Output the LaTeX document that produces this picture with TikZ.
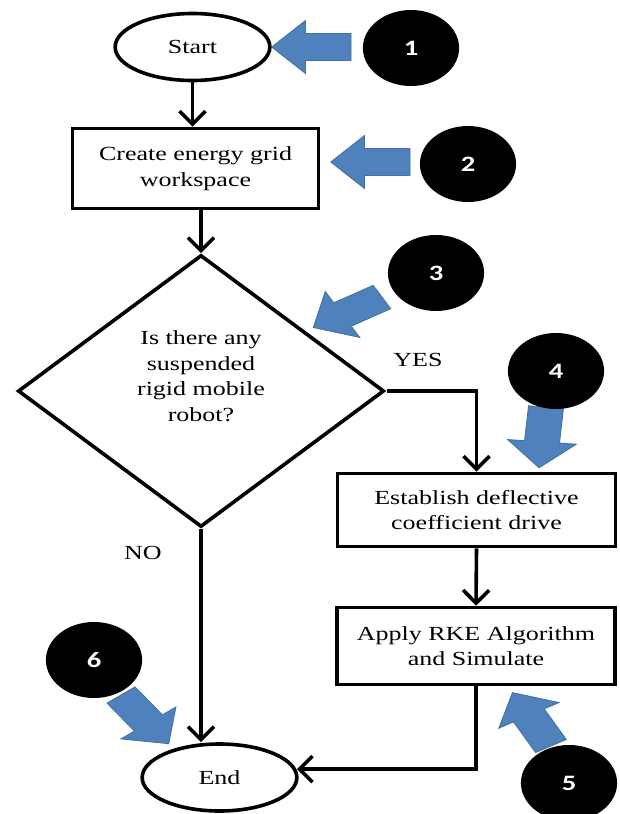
\documentclass[tikz,border=0pt]{standalone}
\usepackage{fontspec}
\setmainfont{Liberation Serif}
\newfontfamily\badgefont{Carlito}
\usetikzlibrary{shapes.geometric,arrows.meta}
\definecolor{arrowblue}{HTML}{4F81BD}
\definecolor{arrowedge}{HTML}{41719C}
\begin{document}
\begin{tikzpicture}[x=1pt,y=-1pt,
  txt/.style={font=\fontsize{20}{25.5}\selectfont, align=center, xscale=1.3, inner sep=0pt},
  terminal/.style={txt, ellipse, draw, line width=3.6pt, minimum width=119pt, minimum height=67pt},
  process/.style={txt, rectangle, draw, line width=3.6pt},
  decision/.style={txt, diamond, draw, line width=3.6pt, minimum width=282pt, minimum height=272pt},
  label/.style={txt},
  badge/.style={ellipse, fill=black, text=white, xscale=1.3, inner sep=0pt, minimum width=74pt, minimum height=76pt, font=\badgefont\bfseries\fontsize{22}{22}\selectfont},
  flow/.style={line width=3.6pt, -{Straight Barb[length=13pt,width=26pt]}},
  blockarrow/.pic={\filldraw[fill=arrowblue, draw=arrowedge, line width=0.8pt]
     (0,-13.5) -- (35,-13.5) -- (35,-26.5) -- (61,0) -- (35,26.5) -- (35,13.5) -- (0,13.5) -- cycle;}
]
\path[use as bounding box, fill=white] (0,0) rectangle (619,814);

% blue pointer arrows
\begin{scope}[xscale=1.3]
\pic[transform shape, rotate=180] at (270,47) {blockarrow};
\pic[transform shape, rotate=180] at (315.4,162) {blockarrow};
\pic[transform shape, rotate=210] at (293.8,297) {blockarrow};
\pic[transform shape, rotate=-95] at (420,407) {blockarrow};
\pic[transform shape, rotate=119] at (423.8,746) {blockarrow};
\pic[transform shape, rotate=-53] at (93.1,695) {blockarrow};
\end{scope}

% badges
\node[badge] (b1) at (411,48) {1};
\node[badge] (b2) at (468,164) {2};
\node[badge] (b3) at (436,273) {3};
\node[badge] (b4) at (556,371) {4};
\node[badge] (b5) at (569,783) {5};
\node[badge] (b6) at (94,660) {6};

% flowchart
\node[terminal] (start) at (192.5,47) {Start};
\node[process, minimum width=189pt, minimum height=80pt] (create) at (195.5,168.5) {Create energy grid\\workspace};
\node[decision] (query) at (201,391) {Is there any\\suspended\\rigid mobile\\robot?\\[4pt]};
\node[process, minimum width=214pt, minimum height=73pt] (establish) at (476.5,510) {Establish deflective\\coefficient drive};
\node[process, minimum width=214pt, minimum height=77pt] (apply) at (476,646) {Apply RKE Algorithm\\and Simulate};
\node[terminal] (finish) at (219.5,777.5) {End};

\node[label] (yes) at (418,360) {YES};
\node[label] (no) at (143,553) {NO};

\draw[flow] (start.south) -- (start.south |- create.north);
\draw[flow] (query.north |- create.south) -- (query.north);
\draw[flow] (query.east) -| (establish.north);
\draw[flow] (establish.south) -- (apply.north);
\draw[flow] (apply.south) |- (finish.8);
\draw[flow] (query.south) -- (query.south |- finish.north);
\end{tikzpicture}
\end{document}
